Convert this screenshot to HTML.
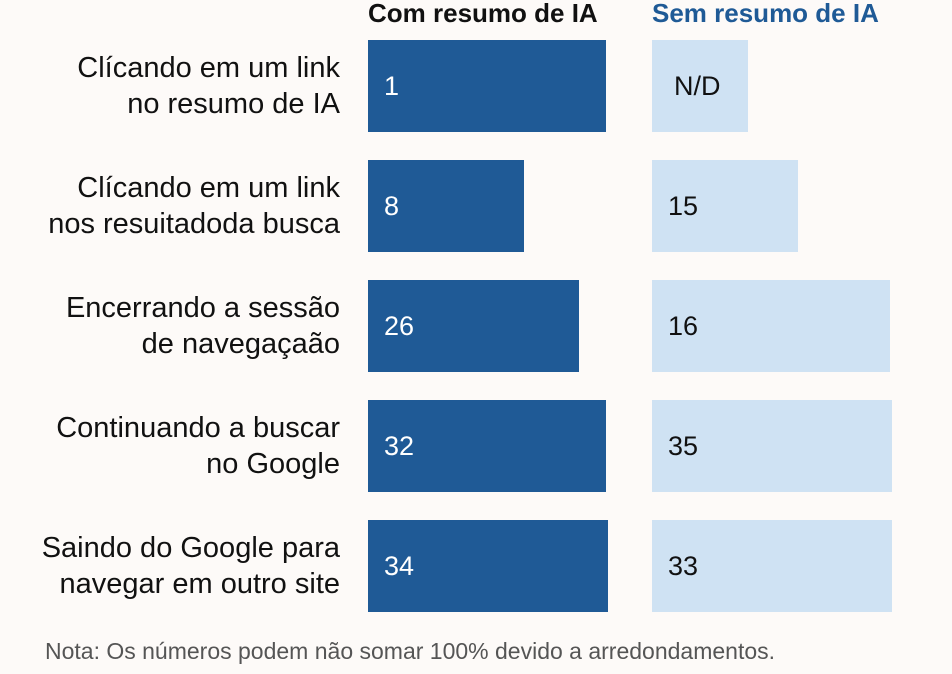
<!DOCTYPE html>
<html><head><meta charset="utf-8">
<style>
body{margin:0;width:952px;height:674px;background:#fdfaf8;font-family:"Liberation Sans",sans-serif;position:relative;overflow:hidden}
.h{position:absolute;top:-2px;font-weight:bold;font-size:26px}
.lbl{position:absolute;right:612px;text-align:right;font-size:29px;line-height:36px;color:#111;white-space:nowrap}
.bar{position:absolute;height:92px}
.val{position:absolute;font-size:27px;line-height:92px}
.note{position:absolute;left:45px;top:638px;font-size:23px;color:#555;white-space:nowrap}
</style></head><body>
<div class="h" style="left:368px;color:#111">Com resumo de IA</div>
<div class="h" style="left:652px;color:#1f5a96">Sem resumo de IA</div>
<div id="chart"></div>
<div class="note">Nota: Os números podem não somar 100% devido a arredondamentos.</div>
<script>
const categories = ["Clícando em um link<br>no resumo de IA","Clícando em um link<br>nos resuitadoda busca","Encerrando a sessão<br>de navegaçaão","Continuando a buscar<br>no Google","Saindo do Google para<br>navegar em outro site"];
const withAI = [1, 8, 26, 32, 34];
const withoutAI = [null, 15, 16, 35, 33];
const withAILength = [99, 65, 88, 99, 100];
const withoutAILength = [40, 61, 99, 100, 100];
const colW = 240, rowTop = 40, rowStep = 120;
function xScale(v){return v/100*colW;}
function yScale(i){return rowTop + i*rowStep;}
const chart = document.getElementById('chart');
categories.forEach((c,i)=>{
  const y = yScale(i);
  const l = document.createElement('div');
  l.className='lbl'; l.innerHTML=c; l.style.top=(y+10)+'px';
  
  
  chart.appendChild(l);
  [[368,withAILength[i],withAI[i],'#1f5a96','#fff','bar-with-ai'],[652,withoutAILength[i],withoutAI[i],'#cfe2f3','#111','bar-without-ai']].forEach(([x,len,v,bg,fg,name])=>{
    const b=document.createElement('div');
    b.className='bar'; b.style.left=x+'px'; b.style.top=y+'px'; b.style.width=xScale(len)+'px'; b.style.background=bg;
    
    
    chart.appendChild(b);
    const t=document.createElement('div');
    t.className='val'; t.style.left=(x+16+(v===null?6:0))+'px'; t.style.top=y+'px'; t.style.color=fg;
    t.textContent = v===null?'N/D':v;
    
    
    chart.appendChild(t);
  });
});
</script>
</body></html>
